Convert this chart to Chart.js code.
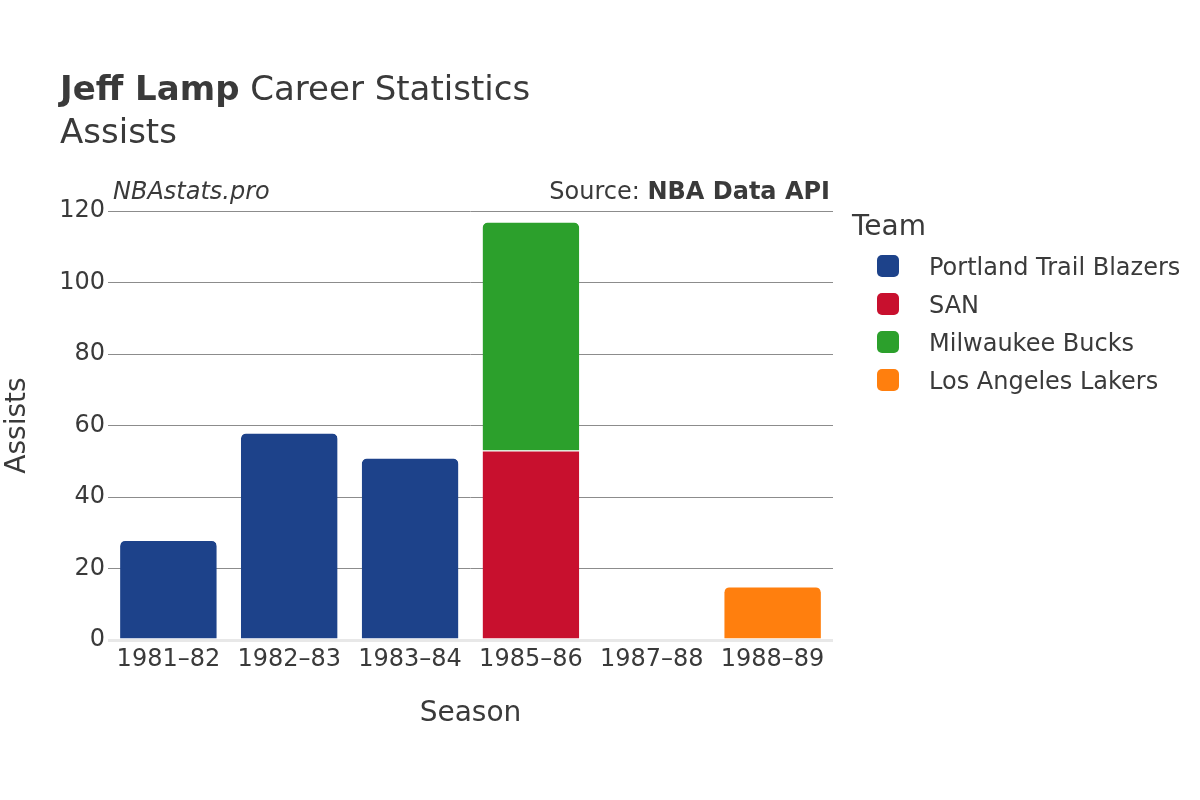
<!DOCTYPE html>
<html>
<head>
<meta charset="utf-8">
<script src="https://cdn.jsdelivr.net/npm/chart.js@4"></script>
<style>
  body { margin: 0; background: #fff; font-family: "DejaVu Sans", sans-serif; color: #3a3a3a; }
  #wrap { position: relative; width: 1200px; height: 800px; }
  #chart { position: absolute; left: 0; top: 0; }
  .txt { position: absolute; white-space: nowrap; line-height: 1; }
  .legend-item { position: absolute; left: 877px; height: 24px; }
  .legend-item .sw { position: absolute; left: 0; top: 0; width: 22px; height: 22px; border-radius: 5px; }
  .legend-item .lb { position: absolute; left: 52px; top: -2px; font-size: 24px; white-space: nowrap; }
</style>
</head>
<body>
<div id="wrap">
  <canvas id="chart" width="1200" height="800"></canvas>
  <div class="txt" style="left:60px; top:71px; font-size:34px;"><b>Jeff Lamp</b> Career Statistics</div>
  <div class="txt" style="left:60px; top:114px; font-size:34px;">Assists</div>
  <div class="txt" style="left:113px; top:179px; font-size:24px; font-style:italic;">NBAstats.pro</div>
  <div class="txt" style="right:370px; top:179px; font-size:24px;">Source: <b>NBA Data API</b></div>
  <div class="txt" style="left:852px; top:212px; font-size:28px;">Team</div>
  <div id="legend"></div>
</div>
<script>
// ─── Data ───────────────────────────────────────────────────────────
const seasons = ['1981–82', '1982–83', '1983–84', '1985–86', '1987–88', '1988–89'];
const teams = ['Portland Trail Blazers', 'SAN', 'Milwaukee Bucks', 'Los Angeles Lakers'];
const teamColors = ['#1d428a', '#c8102e', '#2ca02c', '#ff7f0e'];

const portlandAssists = [28, 58, 51, null, null, null];
const sanAssists = [null, null, null, 53, null, null];
const milwaukeeAssists = [null, null, null, 64, null, null];
const lakersAssists = [null, null, null, null, 0, 15];

const yTicks = [0, 20, 40, 60, 80, 100, 120];

// ─── Chart ──────────────────────────────────────────────────────────
const seriesValues = [portlandAssists, sanAssists, milwaukeeAssists, lakersAssists];

const datasets = teams.map((team, i) => ({
    label: team,
    data: seriesValues[i],
    backgroundColor: teamColors[i],
    borderColor: '#ffffff',
    borderWidth: { top: 1, left: 0, right: 0, bottom: 0 },
    borderSkipped: 'start',
    borderRadius: 6,
    barPercentage: 0.8,
    categoryPercentage: 1.0,
}));

const tickFont = { family: 'DejaVu Sans', size: 24 };
const titleFont = { family: 'DejaVu Sans', size: 28 };

new Chart(document.getElementById('chart'), {
    type: 'bar',
    data: { labels: seasons, datasets },
    options: {
        responsive: false,
        animation: false,
        layout: { padding: { left: 0, top: 211, right: 367, bottom: 69 } },
        plugins: {
            legend: { display: false },
            tooltip: { enabled: false },
        },
        scales: {
            x: {
                stacked: true,
                offset: true,
                grid: { display: false, drawTicks: false },
                border: { display: false },
                ticks: { color: '#3a3a3a', font: tickFont, padding: 5, maxRotation: 0 },
                title: { display: true, text: 'Season', color: '#3a3a3a', font: titleFont, padding: { top: 0, bottom: 0 } },
                afterFit: (scale) => { scale.height = 91; },
            },
            y: {
                stacked: true,
                min: 0,
                max: 120,
                afterBuildTicks: (scale) => { scale.ticks = yTicks.map(v => ({ value: v })); },
                grid: {
                    drawTicks: false,
                    color: (ctx) => ctx.tick && ctx.tick.value === 0 ? '#e8e8e8' : '#8c8c8c',
                    lineWidth: (ctx) => ctx.tick && ctx.tick.value === 0 ? 3 : 1,
                },
                border: { display: false },
                ticks: { color: '#3a3a3a', font: tickFont, padding: 3 },
                title: { display: true, text: 'Assists', color: '#3a3a3a', font: titleFont, padding: { top: 1, bottom: 0 } },
                afterFit: (scale) => { scale.width = 108; },
            },
        },
    },
});

// ─── Legend ─────────────────────────────────────────────────────────
const legend = document.getElementById('legend');
teams.forEach((team, i) => {
    const item = document.createElement('div');
    item.className = 'legend-item';
    item.style.top = (255 + i * 38) + 'px';
    item.innerHTML = `<div class="sw" style="background:${teamColors[i]}"></div><div class="lb">${team}</div>`;
    legend.appendChild(item);
});
</script>
</body>
</html>
